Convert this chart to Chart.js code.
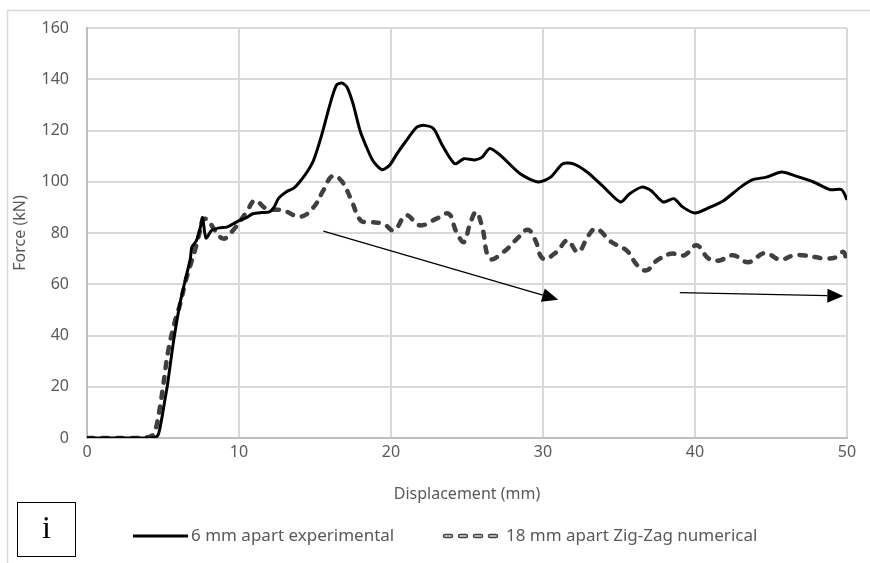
<!DOCTYPE html>
<html>
<head>
<meta charset="utf-8">
<script src="https://cdn.jsdelivr.net/npm/chart.js@4"></script>
<style>
  html, body { margin: 0; padding: 0; background: #fff; }
  #wrap { width: 870px; height: 563px; }
</style>
</head>
<body>
<div id="wrap"><canvas id="forceChart" width="870" height="563"></canvas></div>
<script>
// 6 mm apart, experimental run (displacement mm / force kN)
const expDisp = [0, 2, 4, 4.5, 4.7, 4.9, 5.1, 5.3, 5.7, 6.1, 6.4, 6.8, 6.9, 7.2, 7.45, 7.6, 7.83, 8.2, 8.7, 9.2,
  9.6, 10.07, 10.5, 10.9, 11.5, 12.0, 12.3, 12.6, 13.1, 13.6, 14.0, 14.5, 14.9, 15.4, 16.0, 16.4, 16.76, 17.1,
  17.5, 17.96, 18.3, 18.8, 19.4, 19.9, 20.4, 21.0, 21.7, 22.2, 22.8, 23.4, 24.2, 24.8, 25.5, 26.0, 26.5, 27.2,
  28.5, 29.7, 30.5, 31.3, 32.0, 32.9, 34.0, 35.1, 35.7, 36.5, 37.1, 37.9, 38.6, 39.2, 40.0, 41.0, 41.9, 43.0,
  43.8, 44.7, 45.7, 46.7, 47.8, 48.9, 49.65, 50];
const expForce = [0, 0, 0, 0.3, 1.5, 7, 14, 21, 38, 52, 60, 70, 74.5, 77, 82, 86, 78, 81, 82, 82.3,
  83.5, 85, 86, 87.5, 88, 88.2, 90, 93.5, 96, 97.5, 100, 104, 108.3, 117.4, 130.5, 137.6, 138.5, 137,
  130.5, 120, 114.8, 108.3, 104.7, 106.4, 111, 116, 121.3, 122, 120.7, 114, 107, 109, 108.5, 109.6, 113, 110.3,
  103.1, 99.9, 101.8, 107, 107, 103.8, 97.9, 92.1, 95.3, 97.9, 96.6, 92.1, 93.4, 90.1, 87.8, 90.1, 92.7, 97.9,
  100.8, 101.8, 103.8, 102.1, 99.9, 96.9, 96.9, 93];

// 18 mm apart Zig-Zag, numerical model
const numDisp = [0, 3, 4.0, 4.3, 4.47, 4.8, 5.0, 5.35, 5.8, 6.1, 6.5, 6.9, 7.1, 7.4, 7.65, 8.0, 8.3, 8.97, 9.6,
  10.5, 11.05, 11.8, 12.9, 14.05, 14.9, 15.55, 16.15, 16.76, 17.4, 18.0, 18.6, 19.5, 20.2, 21.0, 21.9, 23.0,
  23.8, 24.3, 24.8, 25.2, 25.6, 26.0, 26.5, 27.4, 28.3, 29.0, 29.5, 30.0, 30.9, 31.6, 32.3, 33.0, 33.5, 34.5,
  35.5, 36.2, 36.8, 37.5, 38.4, 39.3, 40.1, 40.9, 41.6, 42.5, 43.5, 44.6, 45.6, 46.5, 47.1, 47.9, 48.6, 49.3,
  49.76, 50];
const numForce = [0, 0, 0.3, 1, 2.3, 12, 19.9, 34.2, 45.9, 51.7, 61.5, 69.3, 73.2, 80, 85.3, 85, 82, 77.8, 81,
  88.2, 92.7, 89.5, 88.8, 86.4, 90, 96.6, 102.3, 100.2, 92.7, 84.9, 84.3, 83.6, 81, 86.9, 83, 85.6,
  87.5, 80.4, 76.5, 83.6, 88.2, 82.3, 70, 72.6, 77.8, 81.3, 77.1, 70, 72.6, 77.1, 72.6, 79.1, 81.7, 76.5,
  73.2, 67.4, 65.4, 69.3, 71.9, 71.3, 75.2, 70, 69.3, 71.3, 68.6, 72.2, 69.6, 71.3, 71.3, 70.6, 70, 70.6,
  72.6, 68];

const seriesNames = ['6 mm apart experimental', '18 mm apart Zig-Zag numerical'];
const xTicks = [0, 10, 20, 30, 40, 50];
const yTicks = [0, 20, 40, 60, 80, 100, 120, 140, 160];

// trend arrows, in axis units: [fromX, fromY, toX, toY]
const trendArrows = [
  [15.55, 80.7, 31.0, 54.0],
  [39.0, 56.7, 49.76, 55.4]
];

const textGrey = '#595959';
const uiFont = 'Noto Sans';

function points(xs, ys) {
  return xs.map((x, i) => ({ x: x, y: ys[i] }));
}

// white page, outer frame and the panel tag
const framePlugin = {
  id: 'frame',
  beforeDraw(chart) {
    const ctx = chart.ctx;
    ctx.save();
    ctx.fillStyle = '#fff';
    ctx.fillRect(0, 0, chart.width, chart.height);
    ctx.strokeStyle = '#d9d9d9';
    ctx.lineWidth = 1.5;
    ctx.strokeRect(7.5, 10.5, chart.width + 20, chart.height + 20);
    ctx.restore();
  },
  afterDraw(chart) {
    const ctx = chart.ctx;
    ctx.save();
    ctx.strokeStyle = '#000';
    ctx.lineWidth = 1;
    ctx.strokeRect(17.5, 502.5, 58, 54);
    ctx.fillStyle = '#000';
    ctx.font = '32px "Liberation Serif"';
    ctx.textAlign = 'center';
    ctx.textBaseline = 'middle';
    ctx.fillText('i', 46.5, 530);
    ctx.restore();
  }
};

const arrowPlugin = {
  id: 'arrows',
  afterDatasetsDraw(chart) {
    const ctx = chart.ctx;
    const xs = chart.scales.x, ys = chart.scales.y;
    ctx.save();
    ctx.strokeStyle = '#000';
    ctx.fillStyle = '#000';
    ctx.lineWidth = 1.3;
    trendArrows.forEach(a => {
      const x1 = xs.getPixelForValue(a[0]), y1 = ys.getPixelForValue(a[1]);
      const x2 = xs.getPixelForValue(a[2]), y2 = ys.getPixelForValue(a[3]);
      const ang = Math.atan2(y2 - y1, x2 - x1);
      const len = 16, half = 7;
      const bx = x2 - len * Math.cos(ang), by = y2 - len * Math.sin(ang);
      ctx.beginPath();
      ctx.moveTo(x1, y1);
      ctx.lineTo(bx, by);
      ctx.stroke();
      ctx.beginPath();
      ctx.moveTo(x2, y2);
      ctx.lineTo(bx + half * Math.sin(ang), by - half * Math.cos(ang));
      ctx.lineTo(bx - half * Math.sin(ang), by + half * Math.cos(ang));
      ctx.closePath();
      ctx.fill();
    });
    ctx.restore();
  }
};

// legend row under the axis title
const legendPlugin = {
  id: 'legendRow',
  afterDraw(chart) {
    const ctx = chart.ctx;
    const y = 536;
    ctx.save();
    ctx.font = '17px "' + uiFont + '"';
    ctx.fillStyle = textGrey;
    ctx.textBaseline = 'middle';

    ctx.strokeStyle = '#000';
    ctx.lineWidth = 3;
    ctx.beginPath();
    ctx.moveTo(133, y);
    ctx.lineTo(188, y);
    ctx.stroke();
    ctx.fillText(seriesNames[0], 191, y);

    ctx.lineCap = 'round';
    ctx.setLineDash([6, 9]);
    [['#404040', 4.5], ['#b0b0b0', 2]].forEach(s => {
      ctx.strokeStyle = s[0];
      ctx.lineWidth = s[1];
      ctx.beginPath();
      ctx.moveTo(445, y);
      ctx.lineTo(500, y);
      ctx.stroke();
    });
    ctx.fillText(seriesNames[1], 506, y);
    ctx.restore();
  }
};

const numStyle = {
  borderDash: [6, 9],
  borderCapStyle: 'round',
  pointRadius: 0,
  tension: 0.4,
  fill: false
};

new Chart(document.getElementById('forceChart'), {
  type: 'line',
  data: {
    datasets: [
      {
        label: seriesNames[0],
        data: points(expDisp, expForce),
        borderColor: '#000',
        borderWidth: 3,
        pointRadius: 0,
        tension: 0.25,
        fill: false
      },
      Object.assign({
        label: seriesNames[1],
        data: points(numDisp, numForce),
        borderColor: '#404040',
        borderWidth: 4.5
      }, numStyle),
      Object.assign({
        label: seriesNames[1] + ' fill',
        data: points(numDisp, numForce),
        borderColor: '#b0b0b0',
        borderWidth: 2
      }, numStyle)
    ]
  },
  options: {
    responsive: false,
    animation: false,
    layout: { padding: { left: 0, right: 23, top: 28, bottom: 53 } },
    plugins: {
      legend: { display: false },
      tooltip: { enabled: false }
    },
    scales: {
      x: {
        type: 'linear',
        min: 0,
        max: 50,
        afterBuildTicks: s => { s.ticks = xTicks.map(v => ({ value: v })); },
        afterFit: s => { s.height = 72; },
        grid: { color: '#d9d9d9', lineWidth: 2, drawTicks: false },
        border: { color: '#bfbfbf', width: 2 },
        ticks: { color: textGrey, padding: 5, font: { family: uiFont, size: 16 } },
        title: {
          display: true,
          text: 'Displacement (mm)',
          color: textGrey,
          padding: { top: 0, bottom: 6 },
          font: { family: uiFont, size: 16 }
        }
      },
      y: {
        min: 0,
        max: 160,
        afterBuildTicks: s => { s.ticks = yTicks.map(v => ({ value: v })); },
        afterFit: s => { s.width = 87; },
        grid: { color: '#d9d9d9', lineWidth: 2, drawTicks: false },
        border: { color: '#bfbfbf', width: 2 },
        ticks: { color: textGrey, padding: 18, font: { family: uiFont, size: 16 } },
        title: {
          display: true,
          text: 'Force (kN)',
          color: textGrey,
          padding: { top: 11, bottom: 0 },
          font: { family: uiFont, size: 16 }
        }
      }
    }
  },
  plugins: [framePlugin, arrowPlugin, legendPlugin]
});
</script>
</body>
</html>
